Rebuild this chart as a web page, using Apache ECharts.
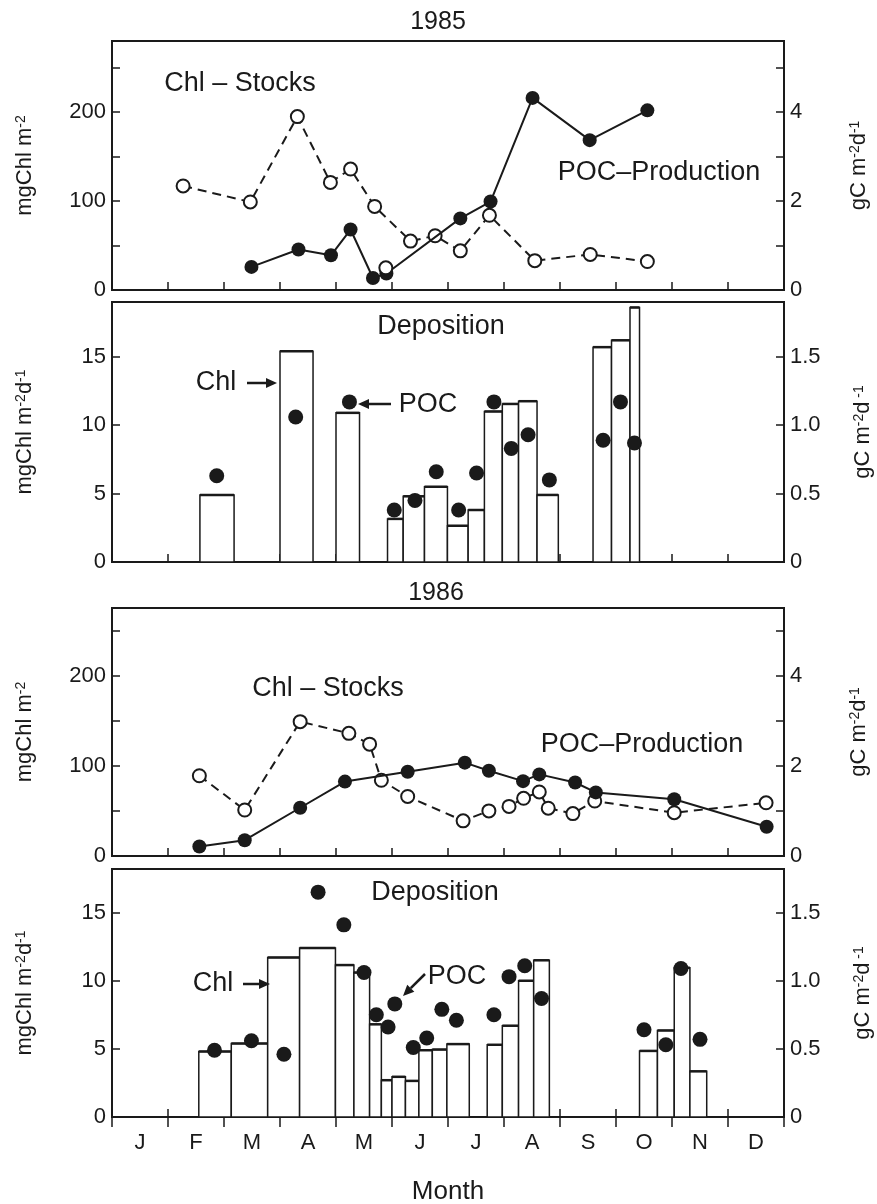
<!DOCTYPE html>
<html>
<head>
<meta charset="utf-8">
<script src="https://cdn.jsdelivr.net/npm/echarts@6/dist/echarts.min.js"></script>
<style>html,body{margin:0;padding:0;background:#fff}#c{width:877px;height:1204px}</style>
</head>
<body>
<div id="c"></div>
<script>
// ---- Data (time in months since 1 January) ----
const monthLabels = ['J','F','M','A','M','J','J','A','S','O','N','D'];

// 1985 Chl stocks (mgChl m-2)
const stock85Time = [1.27, 2.47, 3.31, 3.90, 4.26, 4.69, 5.33, 5.77, 6.22, 6.74, 7.55, 8.54, 9.56];
const stock85Chl  = [117, 99, 195, 121, 136, 94, 55, 61, 44, 84, 33, 40, 32];
const stock85ExtraTime = [4.89];
const stock85ExtraChl  = [25];
// 1985 POC production (gC m-2 d-1)
const prod85Time = [2.49, 3.33, 3.91, 4.26, 4.66, 4.90, 6.22, 6.76, 7.51, 8.53, 9.56];
const prod85POC  = [0.52, 0.91, 0.78, 1.36, 0.27, 0.37, 1.61, 1.99, 4.32, 3.37, 4.04];

// 1985 deposition: Chl per trap interval (mgChl m-2 d-1)
const dep85Start = [1.57, 3.00, 4.00, 4.92, 5.20, 5.58, 5.99, 6.36, 6.65, 6.97, 7.26, 7.59, 8.59, 8.92, 9.25];
const dep85End   = [2.18, 3.59, 4.42, 5.20, 5.58, 5.99, 6.36, 6.65, 6.97, 7.26, 7.59, 7.97, 8.92, 9.25, 9.42];
const dep85Chl   = [4.9, 15.4, 10.9, 3.15, 4.8, 5.5, 2.65, 3.8, 11.0, 11.55, 11.75, 4.9, 15.7, 16.2, 18.6];
// 1985 deposition: POC (gC m-2 d-1)
const poc85Time = [1.87, 3.28, 4.24, 5.04, 5.41, 5.79, 6.19, 6.51, 6.82, 7.13, 7.43, 7.81, 8.77, 9.08, 9.33];
const poc85Dep  = [0.63, 1.06, 1.17, 0.38, 0.45, 0.66, 0.38, 0.65, 1.17, 0.83, 0.93, 0.60, 0.89, 1.17, 0.87];

// 1986 Chl stocks
const stock86Time = [1.56, 2.37, 3.36, 4.23, 4.60, 4.81, 5.28, 6.27, 6.73, 7.09, 7.35, 7.63, 7.79, 8.23, 8.62, 10.04, 11.68];
const stock86Chl  = [89, 51, 149, 136, 124, 84, 66, 39, 50, 55, 64, 71, 53, 47, 61, 48, 59];
// 1986 POC production
const prod86Time = [1.56, 2.37, 3.36, 4.16, 5.28, 6.30, 6.73, 7.34, 7.63, 8.27, 8.64, 10.04, 11.69];
const prod86POC  = [0.21, 0.35, 1.07, 1.65, 1.87, 2.07, 1.89, 1.66, 1.81, 1.63, 1.41, 1.26, 0.65];

// 1986 deposition: Chl
const dep86Start = [1.55, 2.13, 2.78, 3.35, 3.99, 4.32, 4.60, 4.81, 5.00, 5.24, 5.48, 5.72, 5.98, 6.70, 6.97, 7.26, 7.53, 9.42, 9.74, 10.04, 10.32];
const dep86End   = [2.13, 2.78, 3.35, 3.99, 4.32, 4.60, 4.81, 5.00, 5.24, 5.48, 5.72, 5.98, 6.38, 6.97, 7.26, 7.53, 7.81, 9.74, 10.04, 10.32, 10.62];
const dep86Chl   = [4.8, 5.4, 11.7, 12.4, 11.15, 10.6, 6.8, 2.7, 2.95, 2.65, 4.9, 4.95, 5.35, 5.3, 6.7, 10.0, 11.5, 4.85, 6.35, 10.95, 3.35];
// 1986 deposition: POC
const poc86Time = [1.83, 2.49, 3.07, 3.68, 4.14, 4.50, 4.72, 4.93, 5.05, 5.38, 5.62, 5.89, 6.15, 6.82, 7.09, 7.37, 7.67, 9.50, 9.89, 10.16, 10.50];
const poc86Dep  = [0.49, 0.56, 0.46, 1.65, 1.41, 1.06, 0.75, 0.66, 0.83, 0.51, 0.58, 0.79, 0.71, 0.75, 1.03, 1.11, 0.87, 0.64, 0.53, 1.09, 0.57];

// ---- Helpers ----
const FONT = 'Liberation Sans, Arial, sans-serif';
const INK = '#1a1a1a';
const zip = (a, b) => a.map((v, i) => [v, b[i]]);
const zip3 = (a, b, c) => a.map((v, i) => [v, b[i], c[i]]);

const grids = [
  {left: 112, right: 93, top: 41, height: 249},
  {left: 112, right: 93, top: 302, height: 260},
  {left: 112, right: 93, top: 608, height: 248},
  {left: 112, right: 93, top: 869, height: 248}
].map(g => Object.assign(g, {show: true, borderColor: INK, borderWidth: 2, backgroundColor: 'transparent',
  containLabel: false, outerBoundsMode: 'none'}));

function xVal(gi) {
  return {type: 'value', gridIndex: gi, min: 0, max: 12, interval: 1, position: 'bottom',
    axisLine: {show: true, lineStyle: {color: INK, width: 2}},
    axisTick: {show: true, inside: true, length: 8, lineStyle: {color: INK, width: 1.5}},
    axisLabel: {show: false}, splitLine: {show: false}};
}
const supRich = {sup: {fontSize: 14, fontFamily: FONT, color: INK, verticalAlign: 'top', lineHeight: 14, padding: [0, 0, 12, 0]}};
function yAx(gi, pos, max, interval, fmt, name, nameGap) {
  return {type: 'value', gridIndex: gi, position: pos, min: 0, max: max, interval: interval,
    axisLine: {show: true, lineStyle: {color: INK, width: 2}},
    axisTick: {show: true, inside: true, length: 8, lineStyle: {color: INK, width: 1.5}},
    axisLabel: {show: true, formatter: fmt, fontSize: 22, fontFamily: FONT, color: INK, margin: 6, showMaxLabel: false, hideOverlap: false},
    splitLine: {show: false},
    name: name, nameLocation: 'middle', nameGap: nameGap, nameRotate: 90,
    nameTextStyle: {fontSize: 22, fontFamily: FONT, color: INK, rich: supRich}};
}
const fmtHundreds = v => (v % 100 === 0 ? String(v) : '');
const fmtEvenInt = v => (Math.abs(v % 2) < 1e-9 ? String(v) : '');
const fmtFive = v => (Math.abs(v % 5) < 1e-9 ? String(v) : '');
const fmtHalf = v => {
  if (v === 0) return '0';
  return Math.abs(v * 2 - Math.round(v * 2)) < 1e-6 ? v.toFixed(1) : '';
};

const xAxes = [xVal(0), xVal(1), xVal(2), xVal(3),
  {type: 'category', gridIndex: 3, position: 'bottom', data: monthLabels.map((m, i) => String(i)), boundaryGap: true,
   axisLine: {show: false},
   axisTick: {show: true, inside: false, length: 10, alignWithLabel: false, lineStyle: {color: INK, width: 1.5}},
   axisLabel: {formatter: (v, i) => monthLabels[i], fontSize: 22, fontFamily: FONT, color: INK, margin: 15, interval: 0},
   name: 'Month', nameLocation: 'middle', nameGap: 62, nameTextStyle: {fontSize: 26, fontFamily: FONT, color: INK}}
];
const yAxes = [
  yAx(0, 'left', 280, 50, fmtHundreds, 'mgChl m{sup|-2}', 76),
  yAx(0, 'right', 5.6, 1, fmtEvenInt, 'gC m{sup|-2}d{sup|-1}', 64),
  yAx(1, 'left', 19, 5, fmtFive, 'mgChl m{sup|-2}d{sup|-1}', 76),
  yAx(1, 'right', 1.9, 0.5, fmtHalf, 'gC m{sup|-2}d{sup| -1}', 68),
  yAx(2, 'left', 275, 50, fmtHundreds, 'mgChl m{sup|-2}', 76),
  yAx(2, 'right', 5.5, 1, fmtEvenInt, 'gC m{sup|-2}d{sup|-1}', 64),
  yAx(3, 'left', 18.2, 5, fmtFive, 'mgChl m{sup|-2}d{sup|-1}', 76),
  yAx(3, 'right', 1.82, 0.5, fmtHalf, 'gC m{sup|-2}d{sup| -1}', 68)
];

const openCircle = {color: '#fff', borderColor: INK, borderWidth: 2, opacity: 1};
function stockLine(times, vals, xi, yi) {
  return {type: 'line', xAxisIndex: xi, yAxisIndex: yi, data: zip(times, vals), symbol: 'circle', symbolSize: 13,
    lineStyle: {color: INK, width: 2, type: [9, 6]}, itemStyle: openCircle, z: 3, animation: false};
}
function prodLine(times, vals, xi, yi) {
  return {type: 'line', xAxisIndex: xi, yAxisIndex: yi, data: zip(times, vals), symbol: 'circle', symbolSize: 14,
    lineStyle: {color: INK, width: 2}, itemStyle: {color: INK, opacity: 1}, z: 4, animation: false};
}
function depBars(s, e, v, xi, yi) {
  return {type: 'custom', xAxisIndex: xi, yAxisIndex: yi, data: zip3(s, e, v), encode: {x: [0, 1], y: 2}, z: 2, animation: false,
    renderItem: function (params, api) {
      const p0 = api.coord([api.value(0), api.value(2)]);
      const p1 = api.coord([api.value(1), 0]);
      return {type: 'group', children: [
        {type: 'rect', shape: {x: p0[0], y: p0[1], width: p1[0] - p0[0], height: p1[1] - p0[1]},
         style: {fill: '#fff', stroke: INK, lineWidth: 1.5}},
        {type: 'line', shape: {x1: p0[0], y1: p0[1], x2: p1[0], y2: p0[1]}, style: {stroke: INK, lineWidth: 2.5}}
      ]};
    }};
}
function pocDots(times, vals, xi, yi) {
  return {type: 'scatter', xAxisIndex: xi, yAxisIndex: yi, data: zip(times, vals), symbol: 'circle', symbolSize: 15,
    itemStyle: {color: INK, opacity: 1}, z: 5, animation: false};
}

function txt(x, y, s, size) {
  return {type: 'text', x: x, y: y, style: {text: s, fontSize: size || 24, fontFamily: FONT, fill: INK, align: 'center', verticalAlign: 'middle'}, z: 10};
}
function arrow(x1, y1, x2, y2) {
  const ang = Math.atan2(y2 - y1, x2 - x1);
  const L = 11, W = 5;
  const bx = x2 - L * Math.cos(ang), by = y2 - L * Math.sin(ang);
  const nx = -Math.sin(ang) * W, ny = Math.cos(ang) * W;
  return [
    {type: 'line', shape: {x1: x1, y1: y1, x2: bx, y2: by}, style: {stroke: INK, lineWidth: 2.5}, z: 10},
    {type: 'polygon', shape: {points: [[x2, y2], [bx + nx, by + ny], [bx - nx, by - ny]]}, style: {fill: INK}, z: 10}
  ];
}

const graphics = [
  txt(438, 22, '1985', 25),
  txt(436, 593, '1986', 25),
  txt(240, 84, 'Chl \u2013 Stocks', 27),
  txt(659, 173, 'POC\u2013Production', 27),
  txt(441, 327, 'Deposition', 27),
  txt(216, 383, 'Chl', 27),
  ...arrow(247, 383, 277, 383),
  txt(428, 405, 'POC', 27),
  ...arrow(391, 404, 358, 404),
  txt(328, 689, 'Chl \u2013 Stocks', 27),
  txt(642, 745, 'POC\u2013Production', 27),
  txt(435, 893, 'Deposition', 27),
  txt(213, 984, 'Chl', 27),
  ...arrow(243, 984, 270, 984),
  txt(457, 977, 'POC', 27),
  ...arrow(425, 974, 403, 996)
];

const chart = echarts.init(document.getElementById('c'), null, {renderer: 'canvas'});
chart.setOption({
  animation: false,
  backgroundColor: '#fff',
  grid: grids,
  xAxis: xAxes,
  yAxis: yAxes,
  series: [
    stockLine(stock85Time, stock85Chl, 0, 0),
    {type: 'scatter', xAxisIndex: 0, yAxisIndex: 0, data: zip(stock85ExtraTime, stock85ExtraChl), symbol: 'circle', symbolSize: 13, itemStyle: openCircle, z: 5},
    prodLine(prod85Time, prod85POC, 0, 1),
    depBars(dep85Start, dep85End, dep85Chl, 1, 2),
    pocDots(poc85Time, poc85Dep, 1, 3),
    stockLine(stock86Time, stock86Chl, 2, 4),
    prodLine(prod86Time, prod86POC, 2, 5),
    depBars(dep86Start, dep86End, dep86Chl, 3, 6),
    pocDots(poc86Time, poc86Dep, 3, 7)
  ],
  graphic: graphics
});
</script>
</body>
</html>
